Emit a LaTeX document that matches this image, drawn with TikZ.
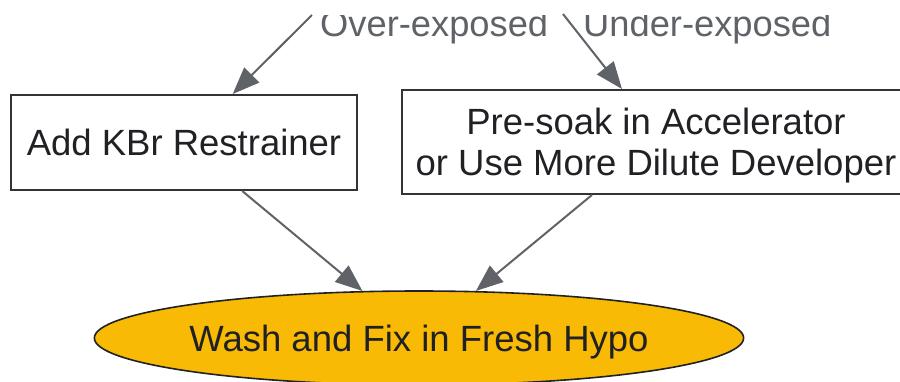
\documentclass[tikz,border=0pt]{standalone}
\usepackage{fontspec}
\setmainfont{Liberation Sans}
\usetikzlibrary{arrows.meta,shapes.geometric}
\definecolor{edgegray}{HTML}{5F6368}
\definecolor{inkdark}{HTML}{202124}
\definecolor{boxline}{HTML}{333333}
\definecolor{hypo}{HTML}{F9BA06}
\tikzset{
  stepbox/.style={draw=boxline, line width=2pt, rectangle, inner sep=0pt, text=inkdark, align=center,
    font=\fontsize{36.5}{41}\selectfont},
  endoval/.style={draw=inkdark, line width=1.6pt, ellipse, fill=hypo, inner sep=0pt, text=inkdark,
    font=\fontsize{36.5}{41}\selectfont},
  edgelbl/.style={text=edgegray, inner sep=0pt, anchor=base west, font=\fontsize{36.3}{41}\selectfont},
  flow/.style={draw=edgegray, line width=2pt, -{Triangle[length=27pt,width=21pt]}}
}
\begin{document}
\begin{tikzpicture}[x=1pt,y=-1pt]
\useasboundingbox (0,0) rectangle (900,381);
\node[stepbox, minimum width=346pt, minimum height=95pt] (box1) at (184,142.5) {Add KBr Restrainer};
\node[stepbox, minimum width=508pt, minimum height=104pt, text height=67pt, text depth=0pt] (box2) at (656,142)
  {Pre-soak in Accelerator\\or Use More Dilute Developer};
\node[endoval, minimum width=648pt, minimum height=94pt, text height=26pt, text depth=0pt] (wash) at (419,338)
  {Wash and Fix in Fresh Hypo};
\begin{scope}
\clip (0,15.5) rectangle (900,381);
\node[edgelbl] (lover) at (320,36) {Over-exposed};
\node[edgelbl] (lunder) at (583,36) {Under-exposed};
\end{scope}
\coordinate (o1) at (312,15);
\coordinate (u1) at (563,14);
\draw[flow] (o1) -- (box1);
\draw[flow] (u1) -- ([xshift=221pt]box2.north west);
\draw[flow] (box1) -- (wash);
\draw[flow] (box2) -- (wash);
\end{tikzpicture}
\end{document}
